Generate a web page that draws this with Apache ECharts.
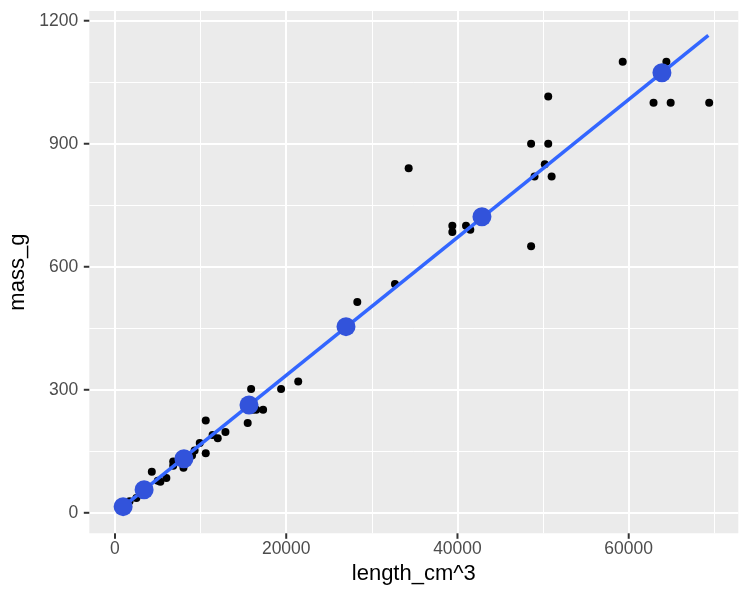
<!DOCTYPE html>
<html>
<head>
<meta charset="utf-8">
<script src="https://cdn.jsdelivr.net/npm/echarts@6/dist/echarts.min.js"></script>
<style>
  html, body { margin: 0; padding: 0; background: #fff; }
  #main { width: 750px; height: 600px; }
</style>
</head>
<body>
<div id="main"></div>
<script>
// observed points
const lengthVals = [600, 900, 1300, 1700, 2500, 3000, 4300, 5000, 5300, 6000, 6800, 6800, 7500, 8000, 8000, 9000, 9300, 9900, 10600, 10600, 11400, 12000, 12900,
    15500, 15900, 16100, 16500, 17300, 19400, 21400,
    28300, 32700, 34300, 39400, 39400, 41000, 41500, 48600, 48600, 50600, 49000, 50200, 51000, 50600, 59300, 64400, 62900, 64900, 69400];
const massVals = [12, 16, 20, 28, 36, 45, 100, 78, 76, 85, 115, 125, 130, 110, 125, 140, 152, 170, 145, 225, 190, 182, 197,
    219, 302, 251, 251, 251, 302, 320,
    514, 558, 840, 700, 685, 700, 690, 650, 900, 900, 820, 850, 820, 1015, 1100, 1100, 1000, 1000, 1000];

// predicted points (big blue)
const predLength = [950, 3400, 8050, 15650, 26980, 42860, 63880];
const predMass = [15, 56, 132, 263, 454, 722, 1073];

// fitted line ends
const fitLength = [600, 69300];
const fitMass = [9, 1164];

const xTicks = [0, 20000, 40000, 60000];
const xMinor = [10000, 30000, 50000, 70000];
const yTicks = [0, 300, 600, 900, 1200];
const yMinor = [150, 450, 750, 1050];

const font = 'Liberation Sans';
const xMin = -3000, xMax = 72800, yMin = -50, yMax = 1223.7;

const gridLines = [];
xTicks.forEach(v => gridLines.push({ xAxis: v, lineStyle: { width: 2 } }));
xMinor.forEach(v => gridLines.push({ xAxis: v, lineStyle: { width: 1 } }));
yTicks.forEach(v => gridLines.push({ yAxis: v, lineStyle: { width: 2 } }));
yMinor.forEach(v => gridLines.push({ yAxis: v, lineStyle: { width: 1 } }));

const chart = echarts.init(document.getElementById('main'));
chart.setOption({
    animation: false,
    textStyle: { fontFamily: font },
    grid: {
        left: 89.3, right: 11.7, top: 11, bottom: 66.7,
        outerBoundsMode: 'none', containLabel: false,
        show: true, backgroundColor: '#EBEBEB', borderWidth: 0
    },
    xAxis: {
        type: 'value', min: xMin, max: xMax,
        name: 'length_cm^3', nameLocation: 'middle', nameGap: 29,
        nameTextStyle: { fontSize: 22, color: '#000', fontFamily: font },
        axisLine: { show: false },
        splitLine: { show: false },
        axisTick: { show: false },
        axisLabel: {
            customValues: xTicks, margin: 7, fontSize: 17.5, color: '#4D4D4D', fontFamily: font,
            formatter: v => String(v)
        }
    },
    yAxis: {
        type: 'value', min: yMin, max: yMax,
        name: 'mass_g', nameLocation: 'middle', nameGap: 48, nameRotate: 90,
        nameTextStyle: { fontSize: 22, color: '#000', fontFamily: font },
        axisLine: { show: false },
        splitLine: { show: false },
        axisTick: { show: false },
        axisLabel: {
            customValues: yTicks, margin: 11, fontSize: 17.5, color: '#4D4D4D', fontFamily: font,
            formatter: v => String(v)
        }
    },
    series: [
        {
            type: 'scatter', z: 1, data: [], silent: true,
            markLine: {
                z: 1, silent: true, symbol: 'none', label: { show: false },
                lineStyle: { color: '#FFFFFF', type: 'solid' },
                data: gridLines
            }
        },
        {
            type: 'scatter', z: 3, symbolSize: 8,
            itemStyle: { color: '#000', opacity: 1 },
            data: lengthVals.map((x, i) => [x, massVals[i]])
        },
        {
            type: 'line', z: 4, symbol: 'none',
            lineStyle: { color: '#3366FF', width: 3.5 },
            data: fitLength.map((x, i) => [x, fitMass[i]])
        },
        {
            type: 'scatter', z: 5, symbolSize: 19,
            itemStyle: { color: '#3253DB', opacity: 1 },
            data: predLength.map((x, i) => [x, predMass[i]])
        }
    ]
});

// tick marks, placed through the axis scales
const tickMarks = [];
xTicks.forEach(v => {
    const p = chart.convertToPixel({ gridIndex: 0 }, [v, yMin]);
    tickMarks.push({
        type: 'line', silent: true, z: 100,
        shape: { x1: p[0], y1: p[1], x2: p[0], y2: p[1] + 5.5 },
        style: { stroke: '#333333', lineWidth: 2 }
    });
});
yTicks.forEach(v => {
    const p = chart.convertToPixel({ gridIndex: 0 }, [xMin, v]);
    tickMarks.push({
        type: 'line', silent: true, z: 100,
        shape: { x1: p[0] - 5.5, y1: p[1], x2: p[0], y2: p[1] },
        style: { stroke: '#333333', lineWidth: 2 }
    });
});
chart.setOption({ graphic: tickMarks });
</script>
</body>
</html>
